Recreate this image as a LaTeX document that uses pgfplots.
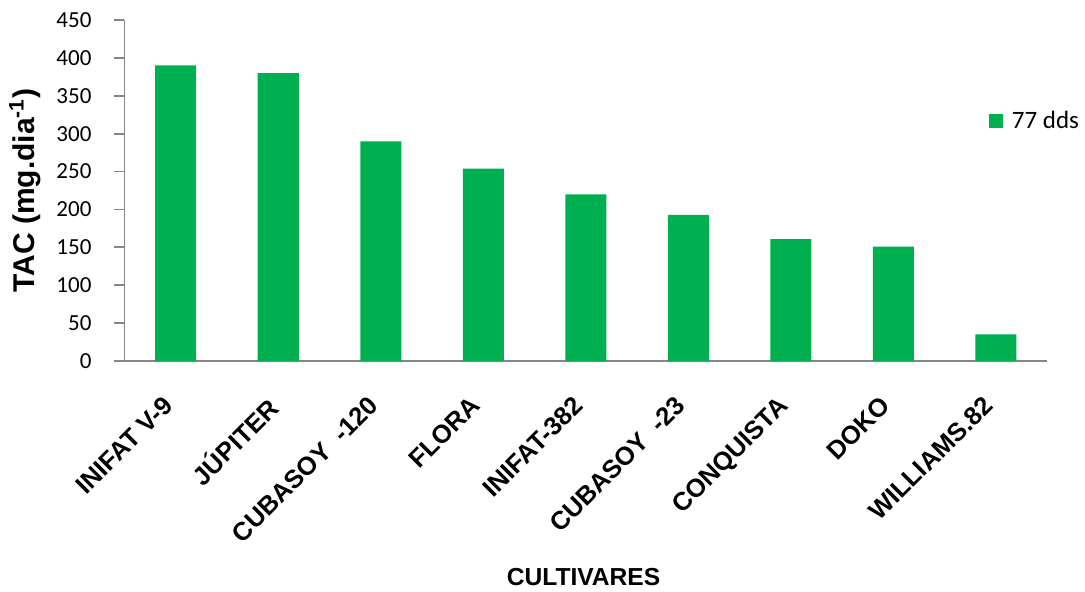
\documentclass[border=0pt]{standalone}
\usepackage{pgfplots}
\pgfplotsset{compat=1.18}
\usepackage{fontspec}
\setmainfont{Liberation Sans}
\newfontfamily\calibri{Carlito}
\definecolor{barGreen}{HTML}{00B050}
\definecolor{axisGray}{HTML}{868686}

% TAC per cultivar at 77 dds
\pgfplotstableread{
idx tac
0 390
1 380
2 290
3 254
4 220
5 193
6 161
7 151
8 35
}\tacdata

\begin{document}
\begin{tikzpicture}
\path[use as bounding box] (-62.25pt,-115pt) rectangle (480.25pt,180.5pt);
\begin{axis}[
  at={(0,0)}, anchor=south west,
  scale only axis, width=461.25pt, height=170.5pt,
  ybar, bar width=20.5pt,
  xmin=-0.5, xmax=8.5, ymin=0, ymax=450,
  xtick=data,
  xticklabels={INIFAT V-9, JÚPITER, CUBASOY\ \ -120, FLORA, INIFAT-382, CUBASOY\ \ -23, CONQUISTA, DOKO, WILLIAMS.82},
  ytick={0,50,...,450},
  axis lines=left,
  axis line style={-, draw=axisGray, line width=0.9pt},
  x tick style={draw=none},
  y tick style={draw=axisGray, line width=0.9pt},
  tick align=outside, major tick length=5pt,
  /pgf/number format/assume math mode=true,
  yticklabel style={font=\calibri\fontsize{11.5}{13}\selectfont, xshift=-8pt},
  xticklabel style={xshift=-7pt, yshift=-11.5pt, rotate=45, anchor=north east, inner sep=0pt, font=\bfseries\fontsize{12.8}{14}\selectfont},
  xlabel={CULTIVARES},
  xlabel style={font=\bfseries\fontsize{12.3}{14}\selectfont, at={(axis description cs:0.4976,-0.633)}, anchor=center},
  ylabel={TAC (mg.dia\textsuperscript{-1})},
  ylabel style={font=\bfseries\fontsize{15}{17}\selectfont, at={(axis description cs:-0.108,0.50)}, anchor=center, rotate=0},
  legend style={at={(axis description cs:0.9371,0.7038)}, anchor=west, draw=none, fill=none, inner sep=0pt, outer sep=0pt, font=\calibri\fontsize{12.5}{14}\selectfont},
  legend image code/.code={\fill[#1] (0pt,-3.5pt) rectangle (7pt,3.5pt);},
]
\addplot[fill=barGreen, draw=none] table[x=idx, y=tac] {\tacdata};
\addlegendentry{\hspace{2.5pt}77 dds}
\end{axis}
\end{tikzpicture}
\end{document}
